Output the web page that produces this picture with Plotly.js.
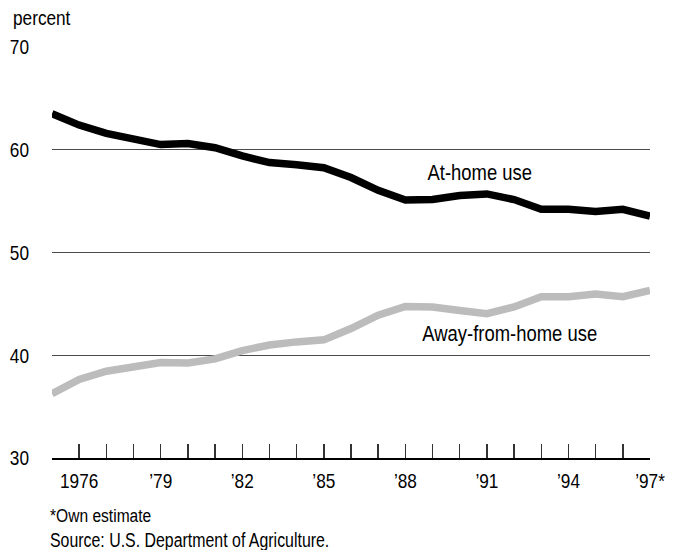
<!DOCTYPE html>
<html>
<head>
<meta charset="utf-8">
<script src="https://cdn.plot.ly/plotly-3.0.1.min.js"></script>
<style>
  html, body { margin: 0; padding: 0; background: #fff; }
  #chart { width: 678px; height: 550px; }
</style>
</head>
<body>
<div id="chart"></div>
<script>
const years = [1975,1976,1977,1978,1979,1980,1981,1982,1983,1984,1985,1986,1987,1988,1989,1990,1991,1992,1993,1994,1995,1996,1997];
const atHome = [63.5,62.4,61.6,61.0,60.5,60.6,60.2,59.4,58.75,58.55,58.25,57.3,56.05,55.1,55.15,55.55,55.7,55.15,54.2,54.2,54.0,54.2,53.55];
const awayFromHome = [36.25,37.65,38.45,38.9,39.3,39.25,39.65,40.45,41.0,41.3,41.5,42.6,43.9,44.75,44.7,44.35,44.05,44.7,45.7,45.7,45.95,45.7,46.3];
const xTickLabels = ["","1976","","","\u201979","","","\u201982","","","\u201985","","","\u201988","","","\u201991","","","\u201994","","","\u201997*"];
const yTickVals = [30,40,50,60,70];
const seriesNames = ["At-home use","Away-from-home use"];

const FONT = '"Liberation Sans Narrow", "Arial Narrow", "Liberation Sans", Arial, sans-serif';

const traces = [
  { x: years, y: atHome, type: 'scatter', mode: 'lines', name: seriesNames[0],
    line: { color: '#000000', width: 7.5 }, hoverinfo: 'skip' },
  { x: years, y: awayFromHome, type: 'scatter', mode: 'lines', name: seriesNames[1],
    line: { color: '#bcbcbc', width: 7.5 }, hoverinfo: 'skip' }
];

const layout = {
  width: 678, height: 550,
  margin: { l: 52, r: 28, t: 47, b: 92, pad: 0 },
  paper_bgcolor: '#ffffff', plot_bgcolor: '#ffffff',
  showlegend: false,
  font: { family: FONT, color: '#000000', size: 21 },
  xaxis: {
    range: [1975, 1997], tickmode: 'array', tickvals: years, ticktext: xTickLabels,
    ticks: 'inside', ticklen: 14, tickwidth: 1.5, tickcolor: '#333333',
    showline: true, linecolor: '#000000', linewidth: 1.5,
    showgrid: false, zeroline: false, ticklabelstandoff: 3,
    tickfont: { family: FONT, size: 21, color: '#000000' }
  },
  yaxis: {
    range: [30, 70], tickmode: 'array', tickvals: yTickVals,
    ticks: '', showline: false, showgrid: true, gridcolor: '#4a4a4a', gridwidth: 1,
    zeroline: false, ticklabelstandoff: 22,
    tickfont: { family: FONT, size: 21, color: '#000000' }
  },
  annotations: [
    { text: 'percent', xref: 'paper', yref: 'paper', x: -0.0686, y: 1.0706,
      xanchor: 'left', yanchor: 'middle', showarrow: false, font: { family: FONT, size: 21 } },
    { text: seriesNames[0], xref: 'x', yref: 'y', x: 1990.75, y: 57.8,
      xanchor: 'center', yanchor: 'middle', showarrow: false, font: { family: FONT, size: 22.5 } },
    { text: seriesNames[1], xref: 'x', yref: 'y', x: 1991.83, y: 42.12,
      xanchor: 'center', yanchor: 'middle', showarrow: false, font: { family: FONT, size: 22.5 } },
    { text: '*Own estimate', xref: 'paper', yref: 'paper', x: -0.0067, y: -0.1387,
      xanchor: 'left', yanchor: 'middle', showarrow: false, font: { family: FONT, size: 19 } },
    { text: 'Source: U.S. Department of Agriculture.', xref: 'paper', yref: 'paper', x: -0.0067, y: -0.2000,
      xanchor: 'left', yanchor: 'middle', showarrow: false, font: { family: FONT, size: 19.4 } }
  ]
};

// The reference uses a narrow sans face that is not installed; condense the
// installed Liberation Sans horizontally, keeping each text's anchor edge fixed.
function condenseText(gd, factor) {
  const anns = gd.layout.annotations || [];
  gd.querySelectorAll('svg text').forEach(function (t) {
    const bb = t.getBBox();
    if (!bb || bb.width === 0) return;
    let anchor = t.getAttribute('text-anchor') || 'start';
    const annEl = t.closest('.annotation');
    if (annEl) {
      const idx = parseInt(annEl.getAttribute('data-index'), 10);
      const xa = anns[idx] ? anns[idx].xanchor : 'center';
      anchor = xa === 'left' ? 'start' : (xa === 'right' ? 'end' : 'middle');
    }
    let ax;
    if (anchor === 'middle') ax = bb.x + bb.width / 2;
    else if (anchor === 'end') ax = bb.x + bb.width;
    else ax = bb.x;
    const prev = t.getAttribute('transform') || '';
    t.setAttribute('transform', (prev + ' translate(' + ax + ',0) scale(' + factor + ',1) translate(' + (-ax) + ',0)').trim());
  });
}

Plotly.newPlot('chart', traces, layout, { displayModeBar: false, staticPlot: true })
  .then(function (gd) { condenseText(gd, 0.82); });
</script>
</body>
</html>
